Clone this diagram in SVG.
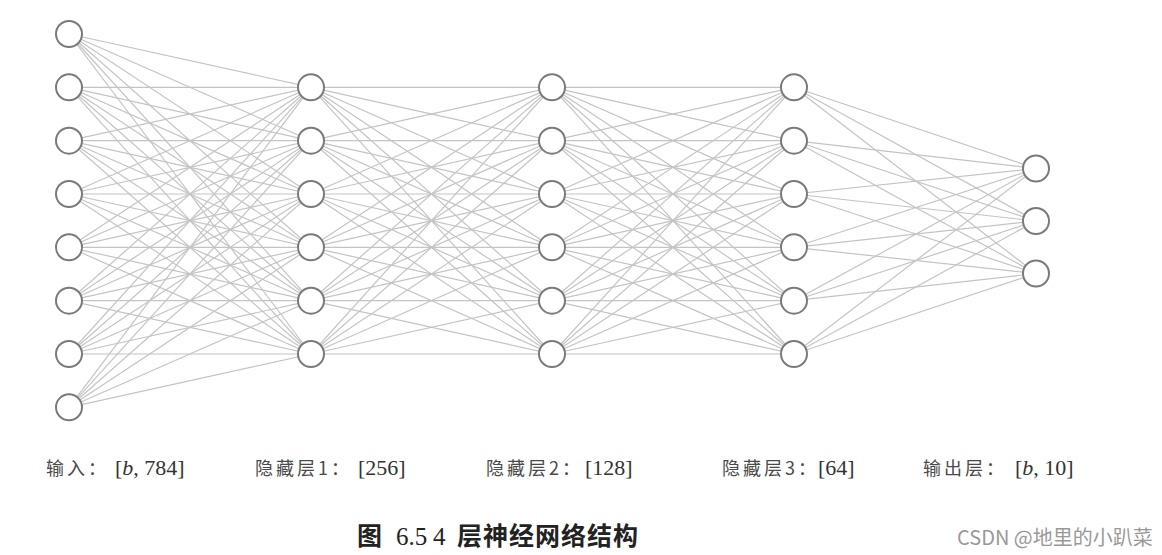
<svg xmlns="http://www.w3.org/2000/svg" width="1162" height="555" viewBox="0 0 1162 555">
<style>
.c{stroke:#c4c4c4;stroke-width:1.2}
.n{fill:#fff;stroke:#7a7a7a;stroke-width:2}
.zh{font-family:"Noto Sans CJK SC",sans-serif;font-size:18px;fill:#4a4a4a;letter-spacing:3px}
.co{letter-spacing:0}
.num{font-family:"Liberation Serif",serif;font-size:22px;fill:#333;letter-spacing:0}
.cap{font-family:"Noto Sans CJK SC",sans-serif;font-size:25px;font-weight:bold;fill:#222;letter-spacing:1px}
.capn{font-family:"Liberation Serif",serif;font-size:25px;font-weight:normal;letter-spacing:0}
.wm{font-family:"Noto Sans CJK SC",sans-serif;font-size:20px;fill:#999}
</style>
<rect width="1162" height="555" fill="#fff"/>
<g id="connectors">
<line class="c" x1="69" y1="34" x2="311" y2="87.3"/><line class="c" x1="69" y1="34" x2="311" y2="140.7"/><line class="c" x1="69" y1="34" x2="311" y2="194"/><line class="c" x1="69" y1="34" x2="311" y2="247.3"/><line class="c" x1="69" y1="34" x2="311" y2="300.7"/><line class="c" x1="69" y1="34" x2="311" y2="354"/>
<line class="c" x1="69" y1="87.3" x2="311" y2="87.3"/><line class="c" x1="69" y1="87.3" x2="311" y2="140.7"/><line class="c" x1="69" y1="87.3" x2="311" y2="194"/><line class="c" x1="69" y1="87.3" x2="311" y2="247.3"/><line class="c" x1="69" y1="87.3" x2="311" y2="300.7"/><line class="c" x1="69" y1="87.3" x2="311" y2="354"/>
<line class="c" x1="69" y1="140.7" x2="311" y2="87.3"/><line class="c" x1="69" y1="140.7" x2="311" y2="140.7"/><line class="c" x1="69" y1="140.7" x2="311" y2="194"/><line class="c" x1="69" y1="140.7" x2="311" y2="247.3"/><line class="c" x1="69" y1="140.7" x2="311" y2="300.7"/><line class="c" x1="69" y1="140.7" x2="311" y2="354"/>
<line class="c" x1="69" y1="194" x2="311" y2="87.3"/><line class="c" x1="69" y1="194" x2="311" y2="140.7"/><line class="c" x1="69" y1="194" x2="311" y2="194"/><line class="c" x1="69" y1="194" x2="311" y2="247.3"/><line class="c" x1="69" y1="194" x2="311" y2="300.7"/><line class="c" x1="69" y1="194" x2="311" y2="354"/>
<line class="c" x1="69" y1="247.3" x2="311" y2="87.3"/><line class="c" x1="69" y1="247.3" x2="311" y2="140.7"/><line class="c" x1="69" y1="247.3" x2="311" y2="194"/><line class="c" x1="69" y1="247.3" x2="311" y2="247.3"/><line class="c" x1="69" y1="247.3" x2="311" y2="300.7"/><line class="c" x1="69" y1="247.3" x2="311" y2="354"/>
<line class="c" x1="69" y1="300.7" x2="311" y2="87.3"/><line class="c" x1="69" y1="300.7" x2="311" y2="140.7"/><line class="c" x1="69" y1="300.7" x2="311" y2="194"/><line class="c" x1="69" y1="300.7" x2="311" y2="247.3"/><line class="c" x1="69" y1="300.7" x2="311" y2="300.7"/><line class="c" x1="69" y1="300.7" x2="311" y2="354"/>
<line class="c" x1="69" y1="354" x2="311" y2="87.3"/><line class="c" x1="69" y1="354" x2="311" y2="140.7"/><line class="c" x1="69" y1="354" x2="311" y2="194"/><line class="c" x1="69" y1="354" x2="311" y2="247.3"/><line class="c" x1="69" y1="354" x2="311" y2="300.7"/><line class="c" x1="69" y1="354" x2="311" y2="354"/>
<line class="c" x1="69" y1="407.3" x2="311" y2="87.3"/><line class="c" x1="69" y1="407.3" x2="311" y2="140.7"/><line class="c" x1="69" y1="407.3" x2="311" y2="194"/><line class="c" x1="69" y1="407.3" x2="311" y2="247.3"/><line class="c" x1="69" y1="407.3" x2="311" y2="300.7"/><line class="c" x1="69" y1="407.3" x2="311" y2="354"/>
<line class="c" x1="311" y1="87.3" x2="552" y2="87.3"/><line class="c" x1="311" y1="87.3" x2="552" y2="140.7"/><line class="c" x1="311" y1="87.3" x2="552" y2="194"/><line class="c" x1="311" y1="87.3" x2="552" y2="247.3"/><line class="c" x1="311" y1="87.3" x2="552" y2="300.7"/><line class="c" x1="311" y1="87.3" x2="552" y2="354"/>
<line class="c" x1="311" y1="140.7" x2="552" y2="87.3"/><line class="c" x1="311" y1="140.7" x2="552" y2="140.7"/><line class="c" x1="311" y1="140.7" x2="552" y2="194"/><line class="c" x1="311" y1="140.7" x2="552" y2="247.3"/><line class="c" x1="311" y1="140.7" x2="552" y2="300.7"/><line class="c" x1="311" y1="140.7" x2="552" y2="354"/>
<line class="c" x1="311" y1="194" x2="552" y2="87.3"/><line class="c" x1="311" y1="194" x2="552" y2="140.7"/><line class="c" x1="311" y1="194" x2="552" y2="194"/><line class="c" x1="311" y1="194" x2="552" y2="247.3"/><line class="c" x1="311" y1="194" x2="552" y2="300.7"/><line class="c" x1="311" y1="194" x2="552" y2="354"/>
<line class="c" x1="311" y1="247.3" x2="552" y2="87.3"/><line class="c" x1="311" y1="247.3" x2="552" y2="140.7"/><line class="c" x1="311" y1="247.3" x2="552" y2="194"/><line class="c" x1="311" y1="247.3" x2="552" y2="247.3"/><line class="c" x1="311" y1="247.3" x2="552" y2="300.7"/><line class="c" x1="311" y1="247.3" x2="552" y2="354"/>
<line class="c" x1="311" y1="300.7" x2="552" y2="87.3"/><line class="c" x1="311" y1="300.7" x2="552" y2="140.7"/><line class="c" x1="311" y1="300.7" x2="552" y2="194"/><line class="c" x1="311" y1="300.7" x2="552" y2="247.3"/><line class="c" x1="311" y1="300.7" x2="552" y2="300.7"/><line class="c" x1="311" y1="300.7" x2="552" y2="354"/>
<line class="c" x1="311" y1="354" x2="552" y2="87.3"/><line class="c" x1="311" y1="354" x2="552" y2="140.7"/><line class="c" x1="311" y1="354" x2="552" y2="194"/><line class="c" x1="311" y1="354" x2="552" y2="247.3"/><line class="c" x1="311" y1="354" x2="552" y2="300.7"/><line class="c" x1="311" y1="354" x2="552" y2="354"/>
<line class="c" x1="552" y1="87.3" x2="794" y2="87.3"/><line class="c" x1="552" y1="87.3" x2="794" y2="140.7"/><line class="c" x1="552" y1="87.3" x2="794" y2="194"/><line class="c" x1="552" y1="87.3" x2="794" y2="247.3"/><line class="c" x1="552" y1="87.3" x2="794" y2="300.7"/><line class="c" x1="552" y1="87.3" x2="794" y2="354"/>
<line class="c" x1="552" y1="140.7" x2="794" y2="87.3"/><line class="c" x1="552" y1="140.7" x2="794" y2="140.7"/><line class="c" x1="552" y1="140.7" x2="794" y2="194"/><line class="c" x1="552" y1="140.7" x2="794" y2="247.3"/><line class="c" x1="552" y1="140.7" x2="794" y2="300.7"/><line class="c" x1="552" y1="140.7" x2="794" y2="354"/>
<line class="c" x1="552" y1="194" x2="794" y2="87.3"/><line class="c" x1="552" y1="194" x2="794" y2="140.7"/><line class="c" x1="552" y1="194" x2="794" y2="194"/><line class="c" x1="552" y1="194" x2="794" y2="247.3"/><line class="c" x1="552" y1="194" x2="794" y2="300.7"/><line class="c" x1="552" y1="194" x2="794" y2="354"/>
<line class="c" x1="552" y1="247.3" x2="794" y2="87.3"/><line class="c" x1="552" y1="247.3" x2="794" y2="140.7"/><line class="c" x1="552" y1="247.3" x2="794" y2="194"/><line class="c" x1="552" y1="247.3" x2="794" y2="247.3"/><line class="c" x1="552" y1="247.3" x2="794" y2="300.7"/><line class="c" x1="552" y1="247.3" x2="794" y2="354"/>
<line class="c" x1="552" y1="300.7" x2="794" y2="87.3"/><line class="c" x1="552" y1="300.7" x2="794" y2="140.7"/><line class="c" x1="552" y1="300.7" x2="794" y2="194"/><line class="c" x1="552" y1="300.7" x2="794" y2="247.3"/><line class="c" x1="552" y1="300.7" x2="794" y2="300.7"/><line class="c" x1="552" y1="300.7" x2="794" y2="354"/>
<line class="c" x1="552" y1="354" x2="794" y2="87.3"/><line class="c" x1="552" y1="354" x2="794" y2="140.7"/><line class="c" x1="552" y1="354" x2="794" y2="194"/><line class="c" x1="552" y1="354" x2="794" y2="247.3"/><line class="c" x1="552" y1="354" x2="794" y2="300.7"/><line class="c" x1="552" y1="354" x2="794" y2="354"/>
<line class="c" x1="794" y1="87.3" x2="1036" y2="168.5"/><line class="c" x1="794" y1="87.3" x2="1036" y2="221"/><line class="c" x1="794" y1="87.3" x2="1036" y2="273.5"/>
<line class="c" x1="794" y1="140.7" x2="1036" y2="168.5"/><line class="c" x1="794" y1="140.7" x2="1036" y2="221"/><line class="c" x1="794" y1="140.7" x2="1036" y2="273.5"/>
<line class="c" x1="794" y1="194" x2="1036" y2="168.5"/><line class="c" x1="794" y1="194" x2="1036" y2="221"/><line class="c" x1="794" y1="194" x2="1036" y2="273.5"/>
<line class="c" x1="794" y1="247.3" x2="1036" y2="168.5"/><line class="c" x1="794" y1="247.3" x2="1036" y2="221"/><line class="c" x1="794" y1="247.3" x2="1036" y2="273.5"/>
<line class="c" x1="794" y1="300.7" x2="1036" y2="168.5"/><line class="c" x1="794" y1="300.7" x2="1036" y2="221"/><line class="c" x1="794" y1="300.7" x2="1036" y2="273.5"/>
<line class="c" x1="794" y1="354" x2="1036" y2="168.5"/><line class="c" x1="794" y1="354" x2="1036" y2="221"/><line class="c" x1="794" y1="354" x2="1036" y2="273.5"/>
</g>
<g id="input-layer">
<circle id="in1" class="n" cx="69" cy="34" r="13"/><circle id="in2" class="n" cx="69" cy="87.3" r="13"/><circle id="in3" class="n" cx="69" cy="140.7" r="13"/><circle id="in4" class="n" cx="69" cy="194" r="13"/><circle id="in5" class="n" cx="69" cy="247.3" r="13"/><circle id="in6" class="n" cx="69" cy="300.7" r="13"/><circle id="in7" class="n" cx="69" cy="354" r="13"/><circle id="in8" class="n" cx="69" cy="407.3" r="13"/>
</g>
<g id="hidden1-layer">
<circle id="h1a" class="n" cx="311" cy="87.3" r="13"/><circle id="h1b" class="n" cx="311" cy="140.7" r="13"/><circle id="h1c" class="n" cx="311" cy="194" r="13"/><circle id="h1d" class="n" cx="311" cy="247.3" r="13"/><circle id="h1e" class="n" cx="311" cy="300.7" r="13"/><circle id="h1f" class="n" cx="311" cy="354" r="13"/>
</g>
<g id="hidden2-layer">
<circle id="h2a" class="n" cx="552" cy="87.3" r="13"/><circle id="h2b" class="n" cx="552" cy="140.7" r="13"/><circle id="h2c" class="n" cx="552" cy="194" r="13"/><circle id="h2d" class="n" cx="552" cy="247.3" r="13"/><circle id="h2e" class="n" cx="552" cy="300.7" r="13"/><circle id="h2f" class="n" cx="552" cy="354" r="13"/>
</g>
<g id="hidden3-layer">
<circle id="h3a" class="n" cx="794" cy="87.3" r="13"/><circle id="h3b" class="n" cx="794" cy="140.7" r="13"/><circle id="h3c" class="n" cx="794" cy="194" r="13"/><circle id="h3d" class="n" cx="794" cy="247.3" r="13"/><circle id="h3e" class="n" cx="794" cy="300.7" r="13"/><circle id="h3f" class="n" cx="794" cy="354" r="13"/>
</g>
<g id="output-layer">
<circle id="o1" class="n" cx="1036" cy="168.5" r="13"/><circle id="o2" class="n" cx="1036" cy="221" r="13"/><circle id="o3" class="n" cx="1036" cy="273.5" r="13"/>
</g>
<g id="labels">
<text class="zh" x="46" y="475">输入<tspan class="co">：</tspan><tspan class="num" x="115">[<tspan font-style="italic">b</tspan>, 784]</tspan></text>
<text class="zh" x="255" y="475">隐藏层1<tspan class="co">：</tspan><tspan class="num" x="358">[256]</tspan></text>
<text class="zh" x="486" y="475">隐藏层2<tspan class="co">：</tspan><tspan class="num" x="585">[128]</tspan></text>
<text class="zh" x="722" y="475">隐藏层3<tspan class="co">：</tspan><tspan class="num" x="818">[64]</tspan></text>
<text class="zh" x="923" y="475">输出层<tspan class="co">：</tspan><tspan class="num" x="1015">[<tspan font-style="italic">b</tspan>, 10]</tspan></text>
</g>
<text class="cap" x="357" y="545">图<tspan class="capn" x="396">6.5</tspan><tspan class="capn" x="433">4</tspan><tspan x="457">层神经网络结构</tspan></text>
<text class="wm" x="957" y="545">CSDN @地里的小趴菜</text>
</svg>
